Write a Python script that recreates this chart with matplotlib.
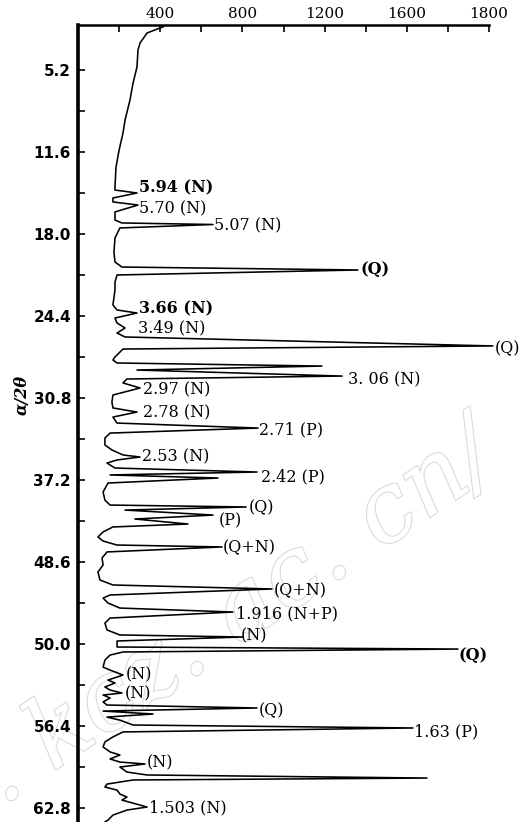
import matplotlib
matplotlib.use("Agg")
import matplotlib.pyplot as plt
from matplotlib import patheffects as pe

# ---------------- data ----------------
two_theta = [1.84, 1.92, 2.31, 3.09, 3.64, 4.97, 6.21, 7.54, 9.10, 10.12,
             11.45, 12.77, 14.33, 14.57, 14.80, 15.19, 15.50, 15.74, 16.28, 16.91,
             17.14, 17.26, 17.53, 18.31, 19.41, 20.19, 20.58, 20.81, 21.20, 21.75,
             22.37, 23.54, 23.93, 24.17, 24.56, 24.95, 25.34, 25.73, 26.04, 26.74,
             26.98, 27.60, 27.84, 28.07, 28.31, 28.62, 29.09, 29.32, 29.63, 30.02,
             30.57, 31.12, 31.58, 31.90, 32.29, 32.76, 33.15, 33.54, 33.93, 34.47,
             34.86, 35.25, 35.41, 35.64, 35.88, 36.27, 36.58, 36.81, 37.05, 37.44,
             38.14, 38.77, 39.16, 39.31, 39.55, 39.94, 40.25, 40.64, 40.87, 41.26,
             41.65, 41.97, 42.28, 42.43, 42.82, 43.29, 43.84, 44.39, 45.01, 45.40,
             45.71, 46.18, 46.42, 46.81, 47.20, 47.51, 47.98, 48.37, 48.91, 49.30,
             49.46, 49.77, 50.24, 50.40, 50.63, 50.87, 51.26, 51.81, 52.04, 52.43,
             52.82, 53.05, 53.36, 53.60, 53.83, 53.99, 54.22, 54.53, 54.77, 55.00,
             55.24, 55.47, 55.71, 55.95, 56.33, 56.56, 56.87, 57.26, 57.65, 58.04,
             58.43, 58.67, 58.98, 59.22, 59.37, 59.61, 60.00, 60.23, 60.47, 60.62,
             60.94, 61.17, 61.41, 61.72, 61.95, 62.19, 62.73, 62.97, 63.36, 63.75,
             63.90]
intensity = [414, 399, 336, 302, 292, 287, 268, 253, 229, 219,
             200, 185, 180, 180, 287, 170, 170, 292, 180, 180,
             214, 657, 204, 180, 175, 180, 214, 1362, 190, 180,
             180, 170, 190, 287, 180, 190, 229, 190, 229, 2019,
             219, 180, 170, 190, 1187, 287, 1285, 238, 219, 302,
             170, 165, 170, 287, 170, 190, 876, 156, 131, 131,
             165, 219, 302, 190, 141, 180, 871, 156, 681, 146,
             122, 131, 156, 818, 229, 657, 277, 535, 170, 122,
             97, 122, 190, 701, 141, 117, 122, 97, 107, 170,
             944, 156, 122, 146, 204, 754, 156, 131, 141, 204,
             803, 190, 190, 1849, 219, 156, 131, 122, 156, 219,
             146, 180, 131, 156, 214, 122, 156, 122, 141, 871,
             122, 365, 141, 204, 268, 1630, 219, 170, 131, 122,
             156, 204, 156, 204, 326, 204, 238, 336, 1698, 268,
             141, 131, 190, 204, 238, 214, 336, 238, 170, 146,
             131]

peak_labels = ["5.94 (N)", "5.70 (N)", "5.07 (N)", "(Q)", "3.66 (N)", "3.49 (N)",
               "(Q)", "3. 06 (N)", "2.97 (N)", "2.78 (N)", "2.71 (P)", "2.53 (N)",
               "2.42 (P)", "(Q)", "(P)", "(Q+N)", "(Q+N)", "1.916 (N+P)", "(N)",
               "(Q)", "(N)", "(N)", "(Q)", "1.63 (P)", "(N)", "1.503 (N)"]
label_two_theta = [14.41, 16.05, 17.38, 20.81, 23.86, 25.34,
                   26.98, 29.40, 30.18, 31.97, 33.30, 35.41,
                   36.97, 39.39, 40.41, 42.51, 45.87, 47.66, 49.38,
                   50.87, 52.43, 53.91, 55.24, 56.88, 59.30, 62.81]
label_intensity = [297, 297, 662, 1377, 297, 292,
                   2029, 1314, 316, 316, 881, 311,
                   890, 832, 686, 706, 954, 769, 793,
                   1854, 234, 229, 881, 1635, 336, 345]
bold_labels = [0, 3, 4, 19]

y_tick_values = [5.2, 11.6, 18.0, 24.4, 30.8, 37.2, 43.6, 50.0, 56.4, 62.8]
y_tick_labels = ["5.2", "11.6", "18.0", "24.4", "30.8", "37.2", "48.6", "50.0", "56.4", "62.8"]
y_minor_values = [8.4, 14.8, 21.2, 27.6, 34.0, 40.4, 46.8, 53.2, 59.6]
x_tick_values = [400, 800, 1200, 1600, 2000]
x_tick_labels = ["400", "800", "1200", "1600", "1800"]
x_minor_values = [200, 600, 1000, 1400, 1800]
y_axis_label = "α/2θ"
watermark = ". kcz. ac. cn/"

assert len(two_theta) == len(intensity)

# ---------------- figure ----------------
W, H = 524, 822
fig = plt.figure(figsize=(W / 100, H / 100), dpi=100)
ax = fig.add_axes([78 / W, 0, 411 / W, 1 - 25 / H])

# watermark (faint, hollow letters, behind the chart)
fig.text(2 / W, 1 - 806 / H, watermark, rotation=34, rotation_mode="anchor",
         ha="left", va="baseline", fontsize=69, family="DejaVu Serif",
         style="italic", color="white", zorder=-1,
         path_effects=[pe.withStroke(linewidth=1.5, foreground="#d9d9d9")])

ax.set_facecolor("none")
ax.plot(intensity, two_theta, color="black", lw=1.15, solid_joinstyle="round",
        clip_on=False, zorder=3)

ax.set_xlim(0, 2000)
ax.set_ylim(63.90, 1.687)

for s in ["right", "bottom"]:
    ax.spines[s].set_visible(False)
ax.spines["left"].set_linewidth(2.6)
ax.spines["top"].set_linewidth(1.8)

ax.xaxis.tick_top()
ax.set_xticks(x_tick_values, x_tick_labels)
ax.set_xticks(x_minor_values, minor=True)
ax.set_yticks(y_tick_values, y_tick_labels)
ax.set_yticks(y_minor_values, minor=True)
ax.tick_params(axis="x", which="both", direction="in", length=5, width=1.2, pad=3)
ax.tick_params(axis="y", which="both", direction="in", length=5, width=1.2, pad=5)
for t in ax.get_xticklabels():
    t.set_fontfamily("DejaVu Serif")
    t.set_fontsize(11)
for t in ax.get_yticklabels():
    t.set_fontfamily("DejaVu Sans")
    t.set_fontweight("bold")
    t.set_fontsize(11)

fig.text(22 / W, 1 - 395 / H, y_axis_label, rotation=90, ha="center", va="center",
         fontsize=11.5, family="DejaVu Serif", style="italic", fontweight="bold")

for i, (txt, tt, inten) in enumerate(zip(peak_labels, label_two_theta, label_intensity)):
    ax.text(inten, tt, txt, ha="left", va="center", fontsize=11.5,
            family="DejaVu Serif", fontweight="bold" if i in bold_labels else "normal",
            clip_on=False, zorder=4)

fig.savefig("out.png", dpi=100)
